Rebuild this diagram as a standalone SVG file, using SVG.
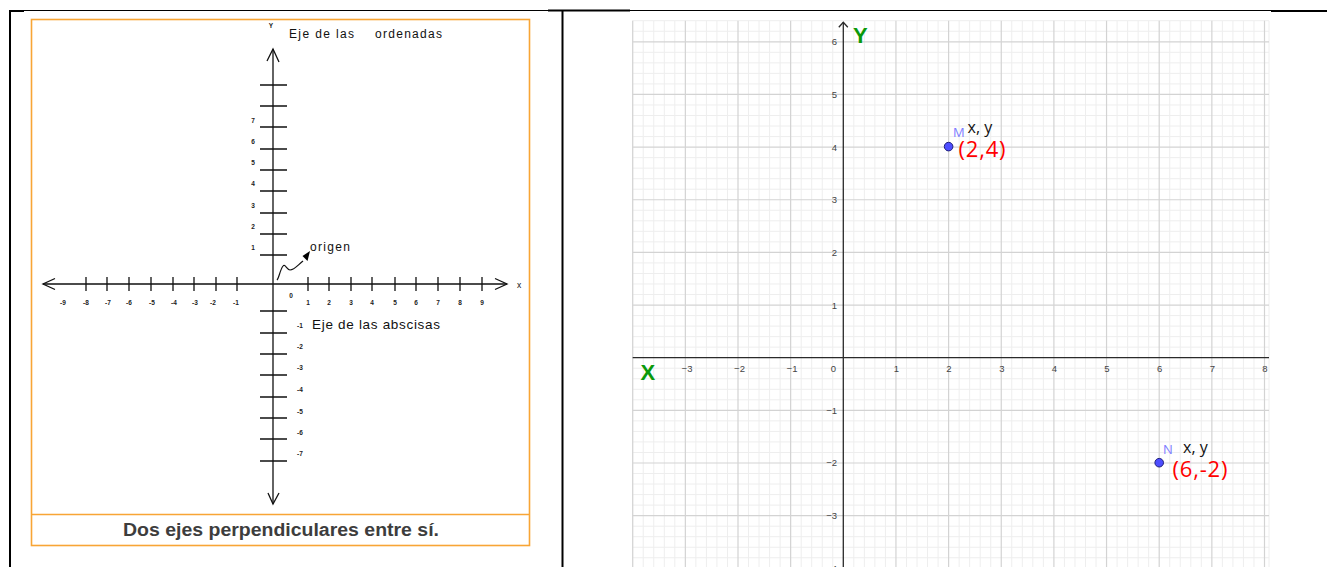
<svg xmlns="http://www.w3.org/2000/svg" width="1327" height="567" viewBox="0 0 1327 567">
<style>
.blk{stroke:#000;fill:none}
.tk{stroke:#111;stroke-width:1.3;fill:none}
.tl{font-family:"Liberation Sans",Arial,sans-serif;font-size:6.5px;font-weight:bold;fill:#222;text-anchor:middle}
.lt{font-family:"Liberation Sans",Arial,sans-serif;fill:#111}
.minor{stroke:#eeeeee;stroke-width:1;fill:none}
.major{stroke:#d3d3d3;stroke-width:1.2;fill:none}
.axis{stroke:#2a2a2a;stroke-width:1.3;fill:none}
.gx{font-family:"Liberation Sans",Arial,sans-serif;font-size:9.5px;fill:#444;text-anchor:middle}
.gy{font-family:"Liberation Sans",Arial,sans-serif;font-size:9.5px;fill:#444;text-anchor:end}
.big{font-family:"Liberation Sans",Arial,sans-serif;font-size:22px;font-weight:bold;fill:#0a990a}
.pname{font-family:"Open Sans","Liberation Sans",sans-serif;font-size:13px;fill:#7d7dff}
.xy{font-family:"Open Sans","Liberation Sans",sans-serif;font-size:16px;fill:#111}
.coord{font-family:"Open Sans","Liberation Sans",sans-serif;font-size:22px;fill:#ff0000}
.pt{fill:#4d4dff;stroke:#1f1f7a;stroke-width:1}
</style>
<rect width="1327" height="567" fill="#fff"/>

<!-- table borders -->
<g id="table">
<path class="blk" stroke-width="1" d="M24 10.5H548M630 10.5H1271"/>
<path class="blk" stroke-width="2.2" d="M9 11H24M548 10.5H630M1271 11H1327"/>
<path class="blk" stroke-width="2" d="M10 10V567M562.5 11V567"/>
</g>

<!-- left panel -->
<g id="left-panel">
<rect x="31.5" y="19.5" width="498" height="526" fill="none" stroke="#f8a535" stroke-width="1.6"/>
<path d="M31.5 514.5H529.5" stroke="#f8a535" stroke-width="1.6"/>
<text x="123" y="536" font-family="'Liberation Sans',Arial,sans-serif" font-size="18" font-weight="bold" fill="#3d3d3d" textLength="316" lengthAdjust="spacingAndGlyphs">Dos ejes perpendiculares entre sí.</text>

<g id="left-axes">
<path class="tk" d="M273 49V504M43 284H507"/>
<path class="tk" d="M267 61L273 49L279 62M268 493L273 504L279 493M55 278.5L43 284L55 289.5M495 278.5L507 284L495 289.5"/>
<path class="tk" d="M260 85H287M260 106H287M260 127H287M260 149H287M260 170H287M260 191H287M260 213H287M260 234H287M260 255H287M260 311H287M260 333H287M260 354H287M260 375H287M260 397H287M260 418H287M260 439H287M260 461H287"/>
<path class="tk" d="M86 277V291M107 277V291M129 277V291M151 277V291M173 277V291M194 277V291M216 277V291M237 277V291M308 277V291M329 277V291M351 277V291M372 277V291M395 277V291M416 277V291M438 277V291M460 277V291M482 277V291"/>
</g>
<g id="left-tick-labels">
<text class="tl" x="253" y="122.5">7</text>
<text class="tl" x="253" y="143.5">6</text>
<text class="tl" x="253" y="164.5">5</text>
<text class="tl" x="253" y="185.5">4</text>
<text class="tl" x="253" y="207.5">3</text>
<text class="tl" x="253" y="228.5">2</text>
<text class="tl" x="253" y="249.5">1</text>
<text class="tl" x="300" y="327.5">-1</text>
<text class="tl" x="300" y="348.5">-2</text>
<text class="tl" x="300" y="369.5">-3</text>
<text class="tl" x="300" y="391.5">-4</text>
<text class="tl" x="300" y="413.5">-5</text>
<text class="tl" x="300" y="434.5">-6</text>
<text class="tl" x="300" y="455.5">-7</text>
<text class="tl" x="63" y="304.5">-9</text>
<text class="tl" x="86" y="304.5">-8</text>
<text class="tl" x="108" y="304.5">-7</text>
<text class="tl" x="129" y="304.5">-6</text>
<text class="tl" x="152" y="304.5">-5</text>
<text class="tl" x="174" y="304.5">-4</text>
<text class="tl" x="195" y="304.5">-3</text>
<text class="tl" x="213" y="304.5">-2</text>
<text class="tl" x="236" y="304.5">-1</text>
<text class="tl" x="291" y="297.5">0</text>
<text class="tl" x="308" y="304.5">1</text>
<text class="tl" x="329" y="304.5">2</text>
<text class="tl" x="351" y="304.5">3</text>
<text class="tl" x="372" y="304.5">4</text>
<text class="tl" x="395" y="304.5">5</text>
<text class="tl" x="416" y="304.5">6</text>
<text class="tl" x="438" y="304.5">7</text>
<text class="tl" x="460" y="304.5">8</text>
<text class="tl" x="482" y="304.5">9</text>
<text class="tl" x="271" y="27.5">Y</text>
<text class="lt" x="517" y="288" font-size="8.5">x</text>
</g>
<g id="left-labels">
<text class="lt" x="289" y="37.5" font-size="12" textLength="65" lengthAdjust="spacing">Eje de las</text>
<text class="lt" x="375" y="37.5" font-size="12" textLength="67" lengthAdjust="spacing">ordenadas</text>
<text class="lt" x="312" y="328.5" font-size="13.5" textLength="128" lengthAdjust="spacing">Eje de las abscisas</text>
<text class="lt" x="310" y="251" font-size="12" textLength="40" lengthAdjust="spacing">origen</text>
</g>
<g id="origin-pointer">
<path d="M277 280C279 278 280 270 283 266C285 263 287 270 290 270C294 270 297 266 303 261" stroke="#111" stroke-width="1.2" fill="none"/>
<path d="M302.5 256L310 251L307.5 261Z" fill="#000"/>
</g>
</g>

<!-- right panel -->
<g id="right-panel">
<g id="grid">
<path class="minor" d="M632.7 20.7V567M643.23 20.7V567M653.76 20.7V567M664.29 20.7V567M674.82 20.7V567M695.88 20.7V567M706.41 20.7V567M716.94 20.7V567M727.47 20.7V567M748.53 20.7V567M759.06 20.7V567M769.59 20.7V567M780.12 20.7V567M801.18 20.7V567M811.71 20.7V567M822.24 20.7V567M832.77 20.7V567M853.83 20.7V567M864.36 20.7V567M874.89 20.7V567M885.42 20.7V567M906.48 20.7V567M917.01 20.7V567M927.54 20.7V567M938.07 20.7V567M959.13 20.7V567M969.66 20.7V567M980.19 20.7V567M990.72 20.7V567M1011.78 20.7V567M1022.31 20.7V567M1032.84 20.7V567M1043.37 20.7V567M1064.43 20.7V567M1074.96 20.7V567M1085.49 20.7V567M1096.02 20.7V567M1117.08 20.7V567M1127.61 20.7V567M1138.14 20.7V567M1148.67 20.7V567M1169.73 20.7V567M1180.26 20.7V567M1190.79 20.7V567M1201.32 20.7V567M1222.38 20.7V567M1232.91 20.7V567M1243.44 20.7V567M1253.97 20.7V567M1269 20.7V567"/>
<path class="minor" d="M632.7 20.7H1269M632.7 31.27H1269M632.7 52.33H1269M632.7 62.86H1269M632.7 73.39H1269M632.7 83.92H1269M632.7 104.98H1269M632.7 115.51H1269M632.7 126.04H1269M632.7 136.57H1269M632.7 157.63H1269M632.7 168.16H1269M632.7 178.69H1269M632.7 189.22H1269M632.7 210.28H1269M632.7 220.81H1269M632.7 231.34H1269M632.7 241.87H1269M632.7 262.93H1269M632.7 273.46H1269M632.7 283.99H1269M632.7 294.52H1269M632.7 315.58H1269M632.7 326.11H1269M632.7 336.64H1269M632.7 347.17H1269M632.7 368.23H1269M632.7 378.76H1269M632.7 389.29H1269M632.7 399.82H1269M632.7 420.88H1269M632.7 431.41H1269M632.7 441.94H1269M632.7 452.47H1269M632.7 473.53H1269M632.7 484.06H1269M632.7 494.59H1269M632.7 505.12H1269M632.7 526.18H1269M632.7 536.71H1269M632.7 547.24H1269M632.7 557.77H1269"/>
<path class="major" d="M632.7 20.7V567M685.35 20.7V567M738 20.7V567M790.65 20.7V567M895.95 20.7V567M948.6 20.7V567M1001.25 20.7V567M1053.9 20.7V567M1106.55 20.7V567M1159.2 20.7V567M1211.85 20.7V567M1264.5 20.7V567"/>
<path class="major" d="M632.7 41.8H1269M632.7 94.45H1269M632.7 147.1H1269M632.7 199.75H1269M632.7 252.4H1269M632.7 305.05H1269M632.7 410.35H1269M632.7 463H1269M632.7 515.65H1269"/>
</g>
<g id="axes">
<path class="axis" d="M843.3 22V567M632.7 357.7H1269"/>
<path class="axis" d="M838.8 27.3L843.3 22.3L847.8 27.3"/>
</g>
<g id="axis-labels">
<text class="gx" x="687" y="372">−3</text>
<text class="gx" x="739.5" y="372">−2</text>
<text class="gx" x="792" y="372">−1</text>
<text class="gx" x="833.3" y="372">0</text>
<text class="gx" x="896.5" y="372">1</text>
<text class="gx" x="949" y="372">2</text>
<text class="gx" x="1001.8" y="372">3</text>
<text class="gx" x="1054.4" y="372">4</text>
<text class="gx" x="1107" y="372">5</text>
<text class="gx" x="1159.7" y="372">6</text>
<text class="gx" x="1212.3" y="372">7</text>
<text class="gx" x="1264.8" y="372">8</text>
<text class="gy" x="837" y="45.2">6</text>
<text class="gy" x="837" y="97.9">5</text>
<text class="gy" x="837" y="150.5">4</text>
<text class="gy" x="837" y="203.2">3</text>
<text class="gy" x="837" y="255.8">2</text>
<text class="gy" x="837" y="308.5">1</text>
<text class="gy" x="837" y="413.8">−1</text>
<text class="gy" x="837" y="466.4">−2</text>
<text class="gy" x="837" y="519.1">−3</text>
<text class="gy" x="837" y="571.7">−4</text>
<text class="big" x="853" y="43">Y</text>
<text class="big" x="640.5" y="380">X</text>
</g>
<g id="point-M">
<circle class="pt" cx="948.6" cy="146.6" r="4.3"/>
<text class="pname" x="953" y="137">M</text>
<text class="xy" x="967.5" y="133">x, y</text>
<text class="coord" x="958.5" y="156.5" textLength="47" lengthAdjust="spacing">(2,4)</text>
</g>
<g id="point-N">
<circle class="pt" cx="1159.2" cy="462.7" r="4.3"/>
<text class="pname" x="1163" y="454">N</text>
<text class="xy" x="1183" y="453">x, y</text>
<text class="coord" x="1172.5" y="476.5" textLength="55" lengthAdjust="spacing">(6,-2)</text>
</g>
</g>
</svg>
